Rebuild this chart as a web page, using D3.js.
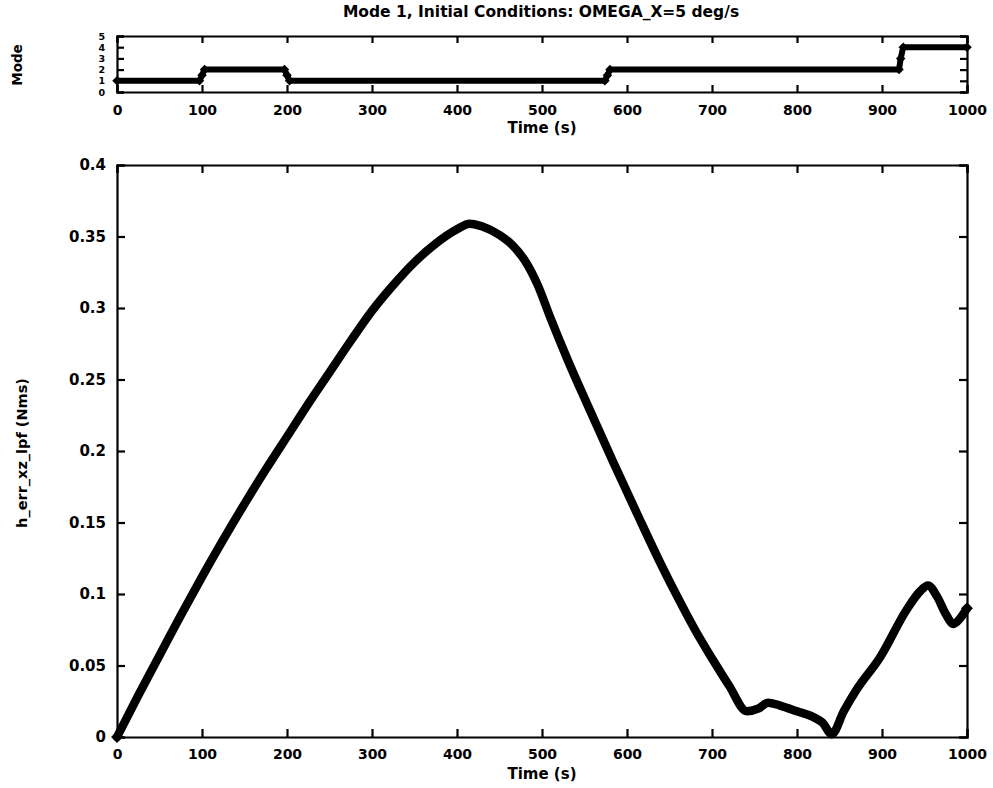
<!DOCTYPE html>
<html>
<head>
<meta charset="utf-8">
<script src="https://cdn.jsdelivr.net/npm/d3@7"></script>
<style>
  body { margin: 0; background: #fff; }
  svg text { font-family: "DejaVu Sans", sans-serif; font-weight: bold; fill: #000; }
</style>
</head>
<body>
<div id="chart"></div>
<script>
// mode history (top panel)
var modeTime  = [0, 97, 100, 103, 197, 200, 203, 574, 577, 580, 920, 922, 925, 1000];
var modeValue = [1, 1, 1.5, 2, 2, 1.5, 1, 1, 1.5, 2, 2, 3, 4, 4];
var modeTicks = [0, 1, 2, 3, 4, 5];

// h_err_xz_lpf (bottom panel)
var errTime = [0, 25, 50, 75, 100, 125, 150, 175, 200, 225, 250, 275, 300, 325, 350, 375, 400, 415, 430,
  450, 465, 480, 495, 510, 530, 556, 584, 612, 639, 662, 680, 701, 720, 741, 755, 766, 780, 800, 819,
  830, 841, 855, 870, 898, 929, 945, 954, 965, 975, 984, 992, 1000];
var errValue = [0, 0.029, 0.057, 0.085, 0.112, 0.138, 0.163, 0.187, 0.210, 0.233, 0.255, 0.277, 0.298,
  0.316, 0.332, 0.345, 0.355, 0.359, 0.357, 0.351, 0.344, 0.333, 0.316, 0.293, 0.264, 0.229, 0.192,
  0.156, 0.122, 0.095, 0.075, 0.054, 0.036, 0.018, 0.020, 0.024, 0.022, 0.018, 0.014, 0.010, 0.002,
  0.018, 0.033, 0.056, 0.089, 0.102, 0.106, 0.098, 0.086, 0.079, 0.083, 0.090];
var timeTicks = [0, 100, 200, 300, 400, 500, 600, 700, 800, 900, 1000];
var errTicks = [0, 0.05, 0.1, 0.15, 0.2, 0.25, 0.3, 0.35, 0.4];

var W = 993, H = 788;
var svg = d3.select("#chart").append("svg")
    .attr("width", W)
    .attr("height", H);

var left = 117, right = 967;

// ---------- top panel ----------
var top1 = 36, bot1 = 92;
var x1 = d3.scaleLinear().domain([0, 1000]).range([left, right]);
var y1 = d3.scaleLinear().domain([0, 5]).range([bot1, top1]);

svg.append("g")
    .attr("transform", "translate(0," + bot1 + ")")
    .call(d3.axisBottom(x1).tickValues(timeTicks).tickSize(-7).tickPadding(13).tickFormat(d3.format("d")))
    .call(styleAxis);
svg.append("g")
    .attr("transform", "translate(0," + top1 + ")")
    .call(d3.axisTop(x1).tickValues(timeTicks).tickSize(-7).tickFormat(""))
    .call(styleAxis);
svg.append("g")
    .attr("transform", "translate(" + left + ",0)")
    .call(d3.axisLeft(y1).tickValues(modeTicks).tickSize(-7).tickPadding(12).tickFormat(d3.format("d")))
    .call(styleAxis)
    .selectAll("text").style("font-size", "9.5px");
svg.append("g")
    .attr("transform", "translate(" + right + ",0)")
    .call(d3.axisRight(y1).tickValues(modeTicks).tickSize(-7).tickFormat(""))
    .call(styleAxis);

var modeData = modeTime.map(function (t, i) { return [t, modeValue[i]]; });
svg.append("path")
    .datum(modeData)
    .attr("fill", "none")
    .attr("stroke", "#000")
    .attr("stroke-width", 6)
    .attr("stroke-linejoin", "round")
    .attr("d", d3.line().x(function (d) { return x1(d[0]); }).y(function (d) { return y1(d[1]); }));

svg.selectAll(".mdot").data(modeData).enter().append("path")
    .attr("class", "mdot")
    .attr("transform", function (d) { return "translate(" + x1(d[0]) + "," + y1(d[1]) + ") rotate(45)"; })
    .attr("d", d3.symbol().type(d3.symbolSquare).size(45))
    .attr("fill", "#000");

svg.append("text")
    .attr("x", 541).attr("y", 17)
    .attr("text-anchor", "middle")
    .style("font-size", "15.5px")
    .text("Mode 1, Initial Conditions: OMEGA_X=5 deg/s");
svg.append("text")
    .attr("x", 542).attr("y", 133)
    .attr("text-anchor", "middle")
    .style("font-size", "15px")
    .text("Time (s)");
svg.append("text")
    .attr("transform", "translate(22,65) rotate(-90)")
    .attr("text-anchor", "middle")
    .style("font-size", "13.5px")
    .text("Mode");

// ---------- main panel ----------
var top2 = 165, bot2 = 737;
var x2 = d3.scaleLinear().domain([0, 1000]).range([left, right]);
var y2 = d3.scaleLinear().domain([0, 0.4]).range([bot2, top2]);

svg.append("g")
    .attr("transform", "translate(0," + bot2 + ")")
    .call(d3.axisBottom(x2).tickValues(timeTicks).tickSize(-8).tickPadding(12).tickFormat(d3.format("d")))
    .call(styleAxis);
svg.append("g")
    .attr("transform", "translate(0," + top2 + ")")
    .call(d3.axisTop(x2).tickValues(timeTicks).tickSize(-8).tickFormat(""))
    .call(styleAxis);
svg.append("g")
    .attr("transform", "translate(" + left + ",0)")
    .call(d3.axisLeft(y2).tickValues(errTicks).tickSize(-8).tickPadding(11).tickFormat(function (d) { return String(+d.toFixed(2)); }))
    .call(styleAxis)
    .selectAll("text").style("font-size", "15px");
svg.append("g")
    .attr("transform", "translate(" + right + ",0)")
    .call(d3.axisRight(y2).tickValues(errTicks).tickSize(-8).tickFormat(""))
    .call(styleAxis);

var errData = errTime.map(function (t, i) { return [t, errValue[i]]; });
svg.append("path")
    .datum(errData)
    .attr("fill", "none")
    .attr("stroke", "#000")
    .attr("stroke-width", 8.5)
    .attr("stroke-linejoin", "round")
    .attr("stroke-linecap", "round")
    .attr("d", d3.line().curve(d3.curveMonotoneX)
        .x(function (d) { return x2(d[0]); }).y(function (d) { return y2(d[1]); }));

svg.selectAll(".edot").data([errData[0], errData[errData.length - 1]]).enter().append("path")
    .attr("class", "edot")
    .attr("transform", function (d) { return "translate(" + x2(d[0]) + "," + y2(d[1]) + ") rotate(45)"; })
    .attr("d", d3.symbol().type(d3.symbolSquare).size(70))
    .attr("fill", "#000");

svg.append("text")
    .attr("x", 542).attr("y", 779)
    .attr("text-anchor", "middle")
    .style("font-size", "15px")
    .text("Time (s)");
svg.append("text")
    .attr("transform", "translate(27,453) rotate(-90)")
    .attr("text-anchor", "middle")
    .style("font-size", "14.5px")
    .text("h_err_xz_lpf (Nms)");

function styleAxis(g) {
    g.select(".domain").attr("stroke", "#000").attr("stroke-width", 2.2);
    g.selectAll(".tick line").attr("stroke", "#000").attr("stroke-width", 2.2);
    g.selectAll(".tick text").style("font-size", "14px").attr("fill", "#000");
}
</script>
</body>
</html>
